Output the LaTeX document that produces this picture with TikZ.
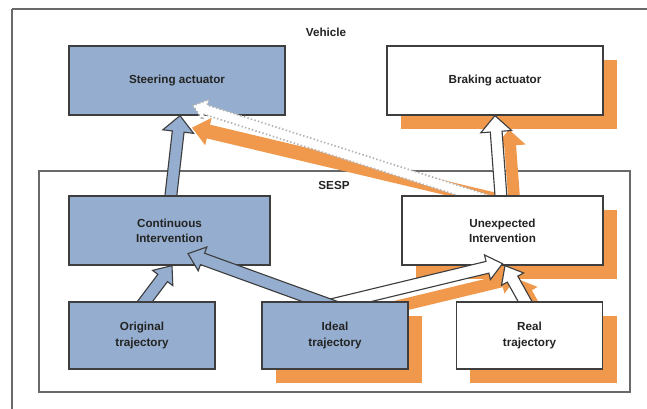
\documentclass[tikz,border=0pt]{standalone}
\usepackage{fontspec}
\setmainfont{Liberation Sans}
\usetikzlibrary{positioning, calc, shadows}

\definecolor{boxblue}{RGB}{149,174,207}
\definecolor{boxorange}{RGB}{240,152,76}
\definecolor{boxline}{RGB}{62,62,62}
\definecolor{frameline}{RGB}{105,105,105}
\definecolor{labeltext}{RGB}{35,35,35}

\pgfdeclarelayer{backdrop}
\pgfdeclarelayer{orange}
\pgfdeclarelayer{toprow}
\pgfdeclarelayer{uparrows}
\pgfdeclarelayer{midrow}
\pgfdeclarelayer{lowarrows}
\pgfsetlayers{backdrop,orange,toprow,uparrows,midrow,lowarrows,main}

% fat block arrow: [style]{from}{to}{shaft half width}{head half width}{head length}
\newcommand{\fatarrow}[6][]{%
  \draw[#1] ($(#2)!#4!90:(#3)$)
    -- ($($(#3)!#6!(#2)$)!#4!-90:(#2)$)
    -- ($($(#3)!#6!(#2)$)!#5!-90:(#2)$)
    -- (#3)
    -- ($($(#3)!#6!(#2)$)!#5!90:(#2)$)
    -- ($($(#3)!#6!(#2)$)!#4!90:(#2)$)
    -- ($(#2)!#4!-90:(#3)$) -- cycle;}

\begin{document}
\begin{tikzpicture}[x=0.025cm, y=-0.025cm,
    block/.style={draw=boxline, line width=0.9pt, align=center, inner sep=0pt,
      text=labeltext, font=\bfseries\fontsize{8.3}{10.7}\selectfont},
    blue block/.style={block, fill=boxblue},
    white block/.style={block, fill=white},
    orange shadow/.style={general shadow={fill=boxorange, shadow xshift=0.35cm, shadow yshift=-0.35cm}},
    top size/.style={minimum width=5.4cm, minimum height=1.725cm},
    mid size/.style={minimum width=5.025cm, minimum height=1.725cm},
    low size/.style={minimum width=3.65cm, minimum height=1.675cm},
    blue arrow/.style={fill=boxblue, draw=boxline, line width=0.8pt},
    white arrow/.style={fill=white, draw=boxline, line width=0.8pt},
    dotted arrow/.style={fill=white, draw=gray!60, line width=1.2pt, dash pattern=on 1pt off 1.6pt},
    arrow shadow/.style={fill=boxorange, draw=none, transform canvas={shift={(14,14)}}},
    frame label/.style={text=labeltext, font=\bfseries\fontsize{8.3}{10}\selectfont}]

    \useasboundingbox (0,0) rectangle (647,409);

    % Vehicle and SESP frames
    \begin{pgfonlayer}{backdrop}
        \fill[white] (0,0) rectangle (647,409);
        \draw[frameline, line width=1.1pt] (12,9) -- (647,9);
        \draw[frameline, line width=1.1pt] (12,9) -- (12,409);
        \draw[frameline, line width=0.9pt] (39,171) rectangle (630,392);
    \end{pgfonlayer}
    \node (vehicle) at (326,32) [frame label] {Vehicle};
    \node (sesp) at (334,185) [frame label] {SESP};

    % Actuators
    \begin{pgfonlayer}{toprow}
        \node (steer) at (177,80.5) [blue block, top size] {Steering actuator};
        \node (brake) at (495,80.5) [white block, top size, orange shadow] {Braking actuator};
    \end{pgfonlayer}

    % Interventions
    \begin{pgfonlayer}{midrow}
        \node (cont) at (169.5,230.5) [blue block, mid size] {Continuous\\Intervention};
        \node (unexp) at (502.5,230.5) [white block, mid size, orange shadow] {Unexpected\\Intervention};
    \end{pgfonlayer}

    % Trajectories
    \node (orig) at (142,335.5) [blue block, low size] {Original\\trajectory};
    \node (ideal) at (335,335.5) [blue block, low size, orange shadow] {Ideal\\trajectory};
    \node (real) at (529.5,335.5) [white block, low size, orange shadow] {Real\\trajectory};

    % arrow ends
    \coordinate (contup) at ($(cont.north)+(0.5,8)$);
    \coordinate (steerin) at ($(steer.south)+(3,0)$);
    \coordinate (unexpup) at ($(unexp.north)+(-1,8)$);
    \coordinate (dotfrom) at ($(unexp.north)+(-4,8)$);
    \coordinate (dotto) at ($(steer.south)+(16,-10)$);
    \coordinate (orfrom) at ($(unexp.north)+(8,8)$);
    \coordinate (orto) at ($(steer.south)+(15,12)$);
    \coordinate (origup) at ($(orig.north)+(-3,8)$);
    \coordinate (contin) at ($(cont.south)+(2.5,0)$);
    \coordinate (idealleft) at ($(ideal.north)+(6.6,8)$);
    \coordinate (contside) at ($(cont.south)+(18.5,-12)$);
    \coordinate (idealright) at ($(ideal.north)+(-22,8)$);
    \coordinate (unexpin) at ($(unexp.south)+(0,-2)$);
    \coordinate (realup) at ($(real.north)+(0,8)$);
    \coordinate (unexpside) at ($(unexp.south)+(2.5,0)$);

    % Orange arrows
    \begin{pgfonlayer}{orange}
        \fatarrow[fill=boxorange, draw=none]{orfrom}{orto}{5pt}{10pt}{12pt}
        \fatarrow[arrow shadow]{unexpup}{brake.south}{4.2pt}{11pt}{11.4pt}
        \fatarrow[arrow shadow]{idealright}{unexpin}{4.3pt}{9pt}{11pt}
        \fatarrow[arrow shadow]{realup}{unexpside}{4.3pt}{9pt}{11pt}
    \end{pgfonlayer}

    % Arrows to the actuators
    \begin{pgfonlayer}{uparrows}
        \fatarrow[dotted arrow]{dotfrom}{dotto}{3.5pt}{7.5pt}{9.5pt}
        \fatarrow[blue arrow]{contup}{steerin}{4.2pt}{11pt}{11.4pt}
        \fatarrow[white arrow]{unexpup}{brake.south}{4.2pt}{11pt}{11.4pt}
    \end{pgfonlayer}

    % Arrows to the interventions
    \begin{pgfonlayer}{lowarrows}
        \fatarrow[blue arrow]{origup}{contin}{4.3pt}{9pt}{11pt}
        \fatarrow[white arrow]{idealright}{unexpin}{4.3pt}{9pt}{11pt}
        \fatarrow[blue arrow]{idealleft}{contside}{4.3pt}{9pt}{11pt}
        \fatarrow[white arrow]{realup}{unexpside}{4.3pt}{9pt}{11pt}
    \end{pgfonlayer}
\end{tikzpicture}
\end{document}
